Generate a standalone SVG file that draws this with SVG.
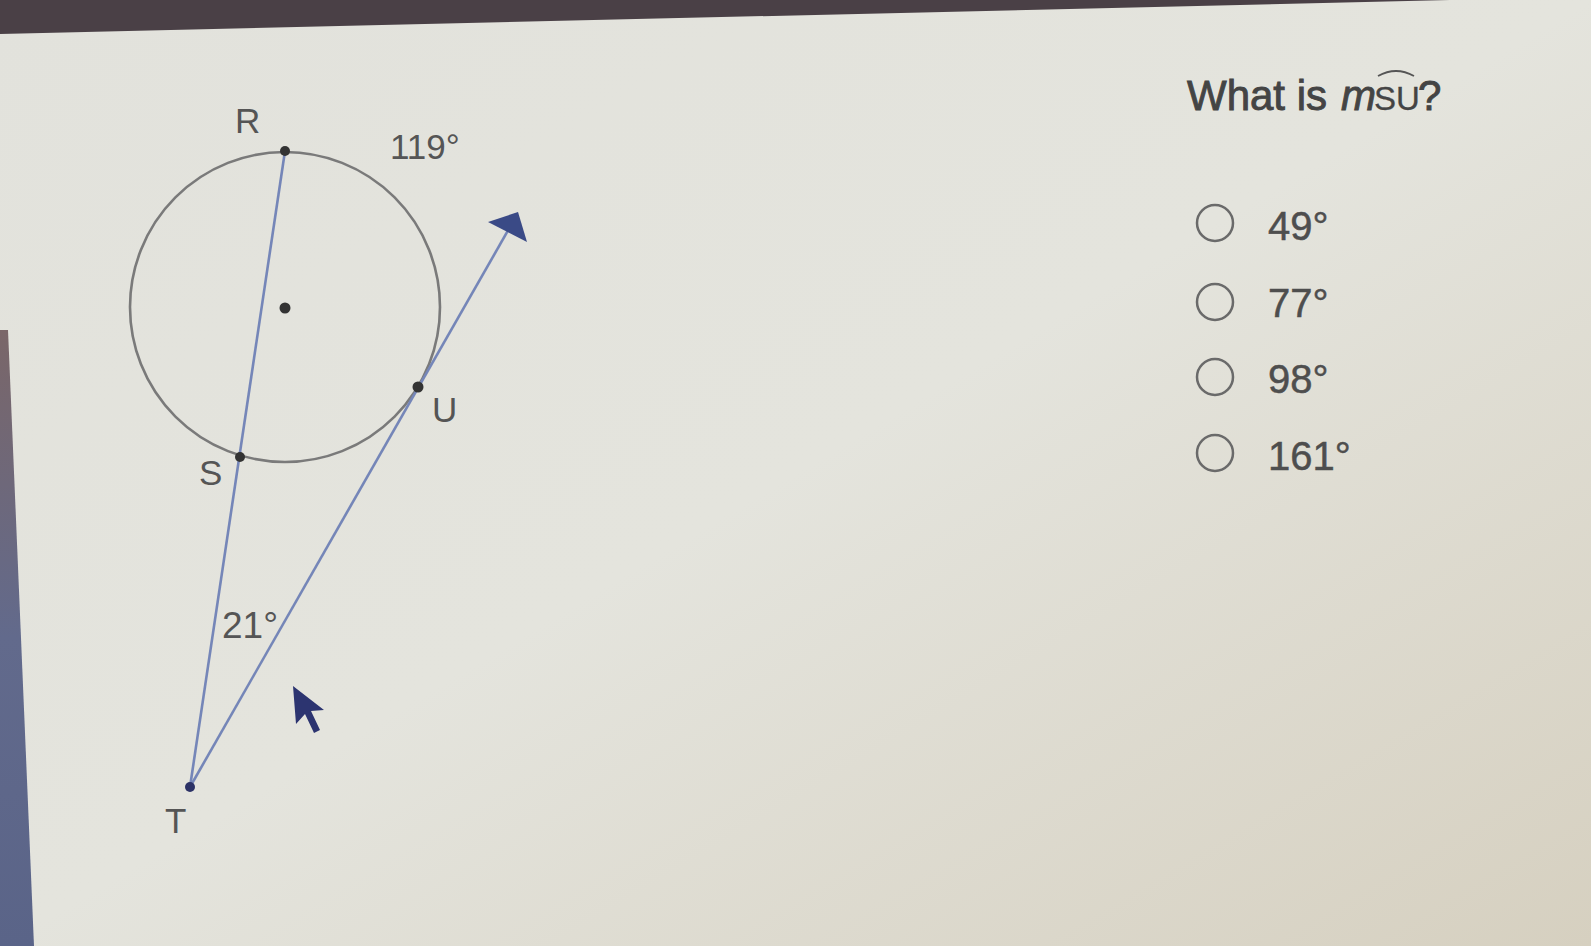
<svg xmlns="http://www.w3.org/2000/svg" width="1591" height="946" viewBox="0 0 1591 946">
<defs>
<linearGradient id="bg" x1="0" y1="0" x2="1" y2="1">
<stop offset="0" stop-color="#e2e2dc"/>
<stop offset="0.5" stop-color="#e4e4dd"/>
<stop offset="1" stop-color="#d6d0c0"/>
</linearGradient>
<linearGradient id="edge" x1="0" y1="0" x2="0" y2="1">
<stop offset="0" stop-color="#7a6668"/>
<stop offset="0.5" stop-color="#626a8c"/>
<stop offset="1" stop-color="#5a6488"/>
</linearGradient>
<style>
.lbl{font-family:"Liberation Sans",Arial,sans-serif;font-size:35px;fill:#555}
.opt{font-family:"Liberation Sans",Arial,sans-serif;font-size:40px;fill:#4e4e4e;stroke:#4e4e4e;stroke-width:0.5}
.q{font-family:"Liberation Sans",Arial,sans-serif;font-size:42px;fill:#444;stroke:#444;stroke-width:0.9}
.radio{fill:none;stroke:#6a6a6a;stroke-width:2.5}
.pt{fill:#333}
.seg{stroke:#7586b8;stroke-width:2.6;fill:none}
</style>
</defs>
<rect width="1591" height="946" fill="url(#bg)"/>
<polygon points="0,0 1450,0 0,34" fill="#4a4046"/>
<polygon points="0,330 8,330 34,946 0,946" fill="url(#edge)"/>

<g id="circle">
<circle cx="285" cy="307" r="155" fill="none" stroke="#7a7a7a" stroke-width="2.6"/>
<circle cx="285" cy="308" r="5.5" class="pt"/>
</g>

<g id="connectors">
<line class="seg" x1="285" y1="151" x2="190" y2="787"/>
<line class="seg" x1="190" y1="787" x2="510" y2="227" stroke="#7088a8"/>
<polygon points="518,212 488,222 527,242" fill="#3a4a86"/>
</g>

<g id="node-R">
<circle cx="285" cy="151" r="5" class="pt"/>
<text class="lbl" x="235" y="133">R</text>
</g>
<g id="node-S">
<circle cx="240" cy="457" r="5" class="pt"/>
<text class="lbl" x="199" y="485">S</text>
</g>
<g id="node-U">
<circle cx="418" cy="387" r="5.5" class="pt"/>
<text class="lbl" x="432" y="422">U</text>
</g>
<g id="node-T">
<circle cx="190" cy="787" r="5" fill="#2c3266"/>
<text class="lbl" x="165" y="833">T</text>
</g>
<g id="label-119">
<text class="lbl" x="390" y="159">119°</text>
</g>
<g id="label-21">
<text class="lbl" x="222" y="638" style="font-size:37px">21°</text>
</g>

<g id="cursor">
<polygon points="293,686 296,724 305,714 314,733 320,730 311,711 324,710" fill="#2c3470"/>
</g>

<g id="question">
<text class="q" x="1187" y="110">What is <tspan x="1341" font-style="italic">m</tspan><tspan x="1374" style="font-size:33px;stroke-width:0.3">SU</tspan><tspan x="1418">?</tspan></text>
<path d="M1378,76 Q1396,66 1414,76" fill="none" stroke="#555" stroke-width="1.8"/>
</g>

<g id="option-1">
<circle class="radio" cx="1215" cy="223" r="18"/>
<text class="opt" x="1268" y="240">49°</text>
</g>
<g id="option-2">
<circle class="radio" cx="1215" cy="302" r="18"/>
<text class="opt" x="1268" y="317">77°</text>
</g>
<g id="option-3">
<circle class="radio" cx="1215" cy="377" r="18"/>
<text class="opt" x="1268" y="393">98°</text>
</g>
<g id="option-4">
<circle class="radio" cx="1215" cy="453" r="18"/>
<text class="opt" x="1268" y="470">161°</text>
</g>
</svg>
